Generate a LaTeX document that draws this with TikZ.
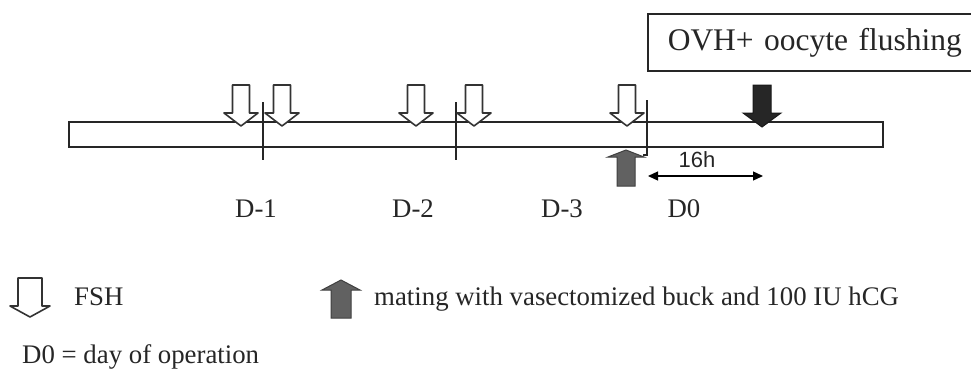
\documentclass[tikz,border=0pt]{standalone}
\usepackage{fontspec}
\setmainfont{Liberation Serif}
\newfontfamily\sansf{Liberation Sans}
\usetikzlibrary{arrows.meta}
% #1 style, #2 centre x, #3 tail y, #4 shoulder y, #5 tip y, #6 half shaft, #7 half head
\newcommand\blkarrow[7]{\draw[#1] (#2-#6,#3) -- (#2+#6,#3) -- (#2+#6,#4) -- (#2+#7,#4) -- (#2,#5) -- (#2-#7,#4) -- (#2-#6,#4) -- cycle;}
\tikzset{
  outl/.style={draw=black!80, line width=1.6pt, line join=round},
  fsharr/.style={outl, fill=white},
  blkarr/.style={draw=black!90, fill=black!85, line width=1pt},
  hcgarr/.style={draw=black!75, fill=black!62, line width=1pt},
  tick/.style={draw=black!85, line width=1.3pt},
  lbl/.style={font=\fontsize{26.8}{31}\selectfont, inner sep=0pt, text=black!85},
  boxlbl/.style={draw=black!85, line width=1.5pt, font=\fontsize{31.5}{37}\selectfont,
     text=black!85, minimum height=57pt, inner xsep=20pt, text width=330pt, align=left},
  barst/.style={draw=black!85, line width=1.5pt, minimum width=814pt, minimum height=25pt, inner sep=0pt},
  dim/.style={draw=black, line width=1.3pt, {Triangle[length=10pt,width=9pt]}-{Triangle[length=10pt,width=9pt]}},
}
\begin{document}
\begin{tikzpicture}[x=1pt, y=-1pt]
\useasboundingbox (0,0) rectangle (971,386);
\clip (0,0) rectangle (971,386);
\fill[white] (0,0) rectangle (971,386);

% top box
\node[boxlbl, anchor=west] (ovh) at (647,42.5) {OVH+ oocyte flushing};

% timeline bar
\node[barst, anchor=north west] (bar) at (68,121) {};

% day ticks
\draw[tick] (263,102) -- (263,160);
\draw[tick] (456,102) -- (456,160);
\draw[tick] (647,100) -- (647,155) -- (643,155);

% FSH arrows
\blkarrow{fsharr}{241}{85}{113}{126}{8.5}{17}
\blkarrow{fsharr}{282}{85}{113}{126}{8.5}{17}
\blkarrow{fsharr}{416}{85}{113}{126}{8.5}{17}
\blkarrow{fsharr}{474}{85}{113}{126}{8.5}{17}
\blkarrow{fsharr}{627}{85}{113}{126}{8.5}{17}
% operation arrow
\blkarrow{blkarr}{762}{85}{113}{127}{9}{19}
% mating / hCG arrow
\blkarrow{hcgarr}{626}{186}{157}{150}{9}{18}

% 16 h interval
\coordinate (h16a) at (648,176);
\coordinate (h16b) at (763,176);
\draw[dim] (h16a) -- (h16b);
\node[inner sep=0pt, font=\sansf\fontsize{22}{26}\selectfont, text=black!85] (h16) at (697,160) {16h};

% day labels
\node[lbl, anchor=base] (d1) at (256,217) {D-1};
\node[lbl, anchor=base] (d2) at (413,217) {D-2};
\node[lbl, anchor=base] (d3) at (562,217) {D-3};
\node[lbl, anchor=base] (d0) at (684,217) {D0};

% legend
\blkarrow{fsharr}{30}{278}{306}{317}{12}{20}
\node[lbl, anchor=base west] (fsh) at (74,305) {FSH};
\blkarrow{hcgarr}{341}{318}{290}{280}{10}{19}
\node[lbl, anchor=base west] (mating) at (374,305) {mating with vasectomized buck and 100 IU hCG};
\node[lbl, anchor=base west] (dzero) at (22,363) {D0 = day of operation};
\end{tikzpicture}
\end{document}
